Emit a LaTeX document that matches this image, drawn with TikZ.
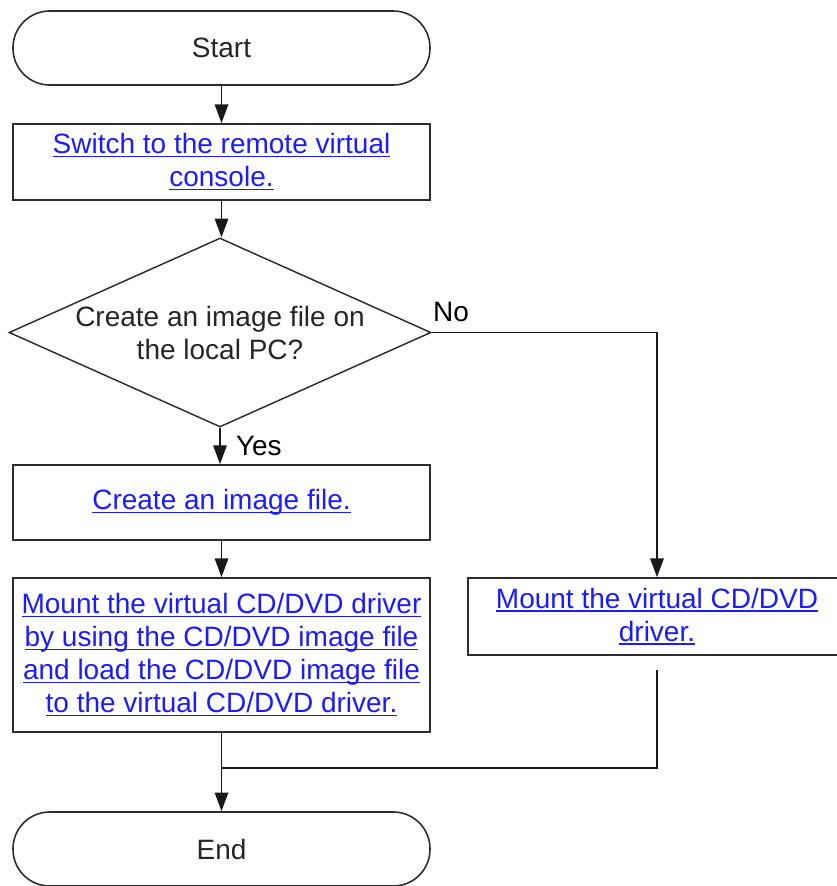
\documentclass[tikz,border=0pt]{standalone}
\usepackage{fontspec}
\setmainfont{Liberation Sans}
\usetikzlibrary{shapes.geometric,arrows.meta}

\definecolor{linkblue}{RGB}{28,28,250}
\definecolor{edgegray}{RGB}{45,45,45}
% underlined link text, one line at a time
\newsavebox\lnkbox
\newcommand\lnk[1]{{\color{linkblue}\sbox\lnkbox{#1}%
    \rlap{\usebox\lnkbox}\rule[-2.6pt]{\wd\lnkbox}{1.1pt}}}

\begin{document}
\begin{tikzpicture}[
    x=0.75pt, y=-0.75pt,
    every node/.style={font=\fontsize{21}{24.75}\selectfont},
    terminal/.style={
        draw=edgegray, line width=1.2pt,
        rectangle, rounded corners=27.5pt,
        minimum width=312.75pt, minimum height=55.5pt,
        text=black!85,
    },
    stepbox/.style={
        draw=edgegray, line width=1.3pt,
        rectangle, align=center, inner sep=0pt,
        minimum width=312.75pt,
    },
    decision/.style={
        draw=edgegray, line width=1.1pt,
        diamond, aspect=2.23, align=center, inner sep=0pt,
        minimum width=316.5pt, minimum height=141.75pt,
        text=black!85,
    },
    flow/.style={
        draw=black!90, line width=1.4pt,
        -{Triangle[length=14pt,width=10pt]},
    },
    joint/.style={
        draw=black!90, line width=1.4pt,
    },
    ]
    \useasboundingbox (0,0) rectangle (836,886);

    \node [terminal, at={(221.5,48)}] (start) {Start};
    \node [stepbox, minimum height=57pt, at={(221.5,162)}] (switch)
        {\lnk{Switch to the remote virtual}\\ \lnk{console.}};
    \node [decision, at={(220,332.5)}] (ask)
        {Create an image file on\\ the local PC?};
    \node [stepbox, minimum height=56.25pt, at={(221.5,502.5)}] (create)
        {\lnk{Create an image file.}};
    \node [stepbox, minimum height=115.5pt, at={(221.5,655)}] (mount)
        {\lnk{Mount the virtual CD/DVD driver}\\
         \lnk{by using the CD/DVD image file}\\
         \lnk{and load the CD/DVD image file}\\
         \lnk{to the virtual CD/DVD driver.}};
    \node [stepbox, minimum width=283.5pt, minimum height=57.75pt,
        at={(657,616.5)}] (mountonly)
        {\lnk{Mount the virtual CD/DVD}\\ \lnk{driver.}};
    \node [terminal, at={(221.5,849)}] (end) {End};

    \coordinate (tail) at (657,670);
    \coordinate (merge) at (221.5,768);

    \draw [flow] (start) -- (switch);
    \draw [flow] (switch) -- (switch |- ask.north);
    \draw [flow] (ask.south) -- node [anchor=west, xshift=8pt] {Yes}
        (ask.south |- create.north);
    \draw [flow] (ask.east) -| (mountonly.north)
        node [pos=0, anchor=south west, xshift=-3pt, yshift=4pt] {No};
    \draw [flow] (create) -- (mount);
    \draw [flow] (mount) -- (end);
    \draw [joint] (tail) |- (merge);
\end{tikzpicture}
\end{document}
